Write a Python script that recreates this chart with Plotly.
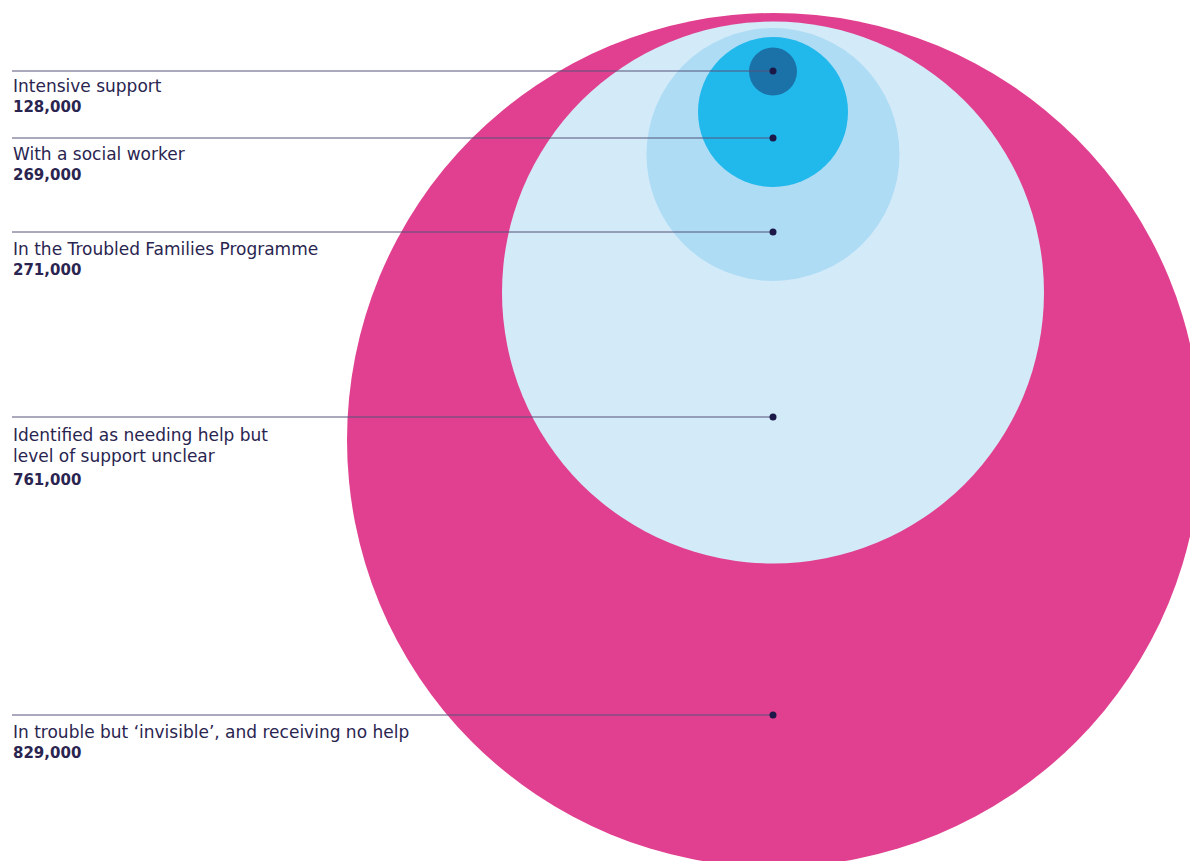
import plotly.graph_objects as go

# Data
categories = [
    ["Intensive support"],
    ["With a social worker"],
    ["In the Troubled Families Programme"],
    ["Identified as needing help but", "level of support unclear"],
    ["In trouble but ‘invisible’, and receiving no help"],
]
values = [128000, 269000, 271000, 761000, 829000]

# Layout geometry (pixel coordinates)
W, H = 1190, 861
cx = 773
dot_y = [71, 138, 232, 417, 715]
label_off = [15, 16, 17, 18, 17]
value_off = [36, 37, 38, 63, 38]
line_gap = 21
# circles: (center x, center y, radius, colour), drawn largest first
circles = [
    (774, 440, 427, "#E0408F"),
    (773, 292.5, 271, "#D3EAF8"),
    (773, 154.5, 126.5, "#AEDCF5"),
    (773, 112, 75, "#21B8EC"),
    (773, 71.5, 24, "#1B72A8"),
]

TEXT = "#2A2550"
LINE = "#55527A"
DOT = "#1C1848"
FONT = "DejaVu Sans"

fig = go.Figure()

shapes = []
for (x0, y0, r, col) in circles:
    shapes.append(dict(type="circle", xref="x", yref="y",
                       x0=x0 - r, x1=x0 + r, y0=y0 - r, y1=y0 + r,
                       fillcolor=col, line=dict(width=0), layer="below"))

for y in dot_y:
    fig.add_trace(go.Scatter(x=[12, cx], y=[y, y], mode="lines",
                             line=dict(color=LINE, width=1),
                             hoverinfo="skip", showlegend=False))
fig.add_trace(go.Scatter(x=[cx] * len(dot_y), y=dot_y, mode="markers",
                         marker=dict(color=DOT, size=7),
                         hoverinfo="skip", showlegend=False))

annotations = []
for cat, val, y, lo, vo in zip(categories, values, dot_y, label_off, value_off):
    for i, part in enumerate(cat):
        annotations.append(dict(x=11, y=y + lo + i * line_gap, xref="x", yref="y",
                                text=part, showarrow=False, xanchor="left", yanchor="middle",
                                font=dict(family=FONT, size=17, color=TEXT)))
    annotations.append(dict(x=11, y=y + vo, xref="x", yref="y",
                            text=f"<b>{val:,}</b>", showarrow=False,
                            xanchor="left", yanchor="middle",
                            font=dict(family=FONT, size=15, color=TEXT)))

fig.update_layout(
    width=W, height=H,
    margin=dict(l=0, r=0, t=0, b=0),
    paper_bgcolor="white", plot_bgcolor="white",
    xaxis=dict(range=[0, W], visible=False, fixedrange=True),
    yaxis=dict(range=[H, 0], visible=False, fixedrange=True),
    shapes=shapes, annotations=annotations,
    showlegend=False,
)

fig.write_html("out.html", config={"displayModeBar": False},
               post_script="document.body.style.margin='0';document.body.style.overflow='hidden';")
